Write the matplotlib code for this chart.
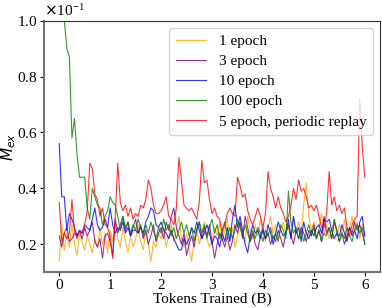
import numpy as np
import matplotlib
matplotlib.use("Agg")
import matplotlib.pyplot as plt
from matplotlib.ticker import ScalarFormatter

plt.rcParams['font.family'] = ['Liberation Serif', 'DejaVu Serif']
plt.rcParams['mathtext.fontset'] = 'dejavusans'

tokens = np.round(np.arange(121) * 0.05, 2)

# values in units of 1e-1
one_epoch = [
    0.14, 0.27, 0.18, 0.24, 0.19, 0.27, 0.20, 0.16, 0.24, 0.21,
    0.18, 0.23, 0.20, 0.17, 0.22, 0.19, 0.26, 0.20, 0.24, 0.17,
    0.25, 0.21, 0.28, 0.22, 0.19, 0.26, 0.21, 0.17, 0.23, 0.19,
    0.22, 0.27, 0.21, 0.18, 0.25, 0.20, 0.14, 0.21, 0.19, 0.24,
    0.22, 0.26, 0.19, 0.23, 0.27, 0.21, 0.25, 0.30, 0.22, 0.19,
    0.24, 0.18, 0.14, 0.22, 0.26, 0.20, 0.24, 0.28, 0.22, 0.19,
    0.21, 0.26, 0.23, 0.28, 0.21, 0.25, 0.29, 0.22, 0.26, 0.19,
    0.23, 0.28, 0.24, 0.21, 0.30, 0.25, 0.22, 0.27, 0.23, 0.29,
    0.24, 0.21, 0.26, 0.30, 0.24, 0.27, 0.22, 0.25, 0.28, 0.24,
    0.26, 0.22, 0.30, 0.25, 0.28, 0.23, 0.34, 0.42, 0.30, 0.25,
    0.28, 0.22, 0.26, 0.31, 0.24, 0.27, 0.22, 0.25, 0.29, 0.23,
    0.27, 0.24, 0.29, 0.22, 0.26, 0.30, 0.25, 0.28, 0.22, 0.27,
    0.23,
]
three_epoch = [
    0.23, 0.19, 0.24, 0.26, 0.21, 0.22, 0.24, 0.23, 0.25, 0.22,
    0.26, 0.23, 0.25, 0.28, 0.21, 0.19, 0.22, 0.15, 0.23, 0.24,
    0.21, 0.16, 0.29, 0.24, 0.27, 0.30, 0.25, 0.28, 0.23, 0.26,
    0.29, 0.24, 0.27, 0.22, 0.25, 0.20, 0.23, 0.27, 0.21, 0.24,
    0.26, 0.22, 0.28, 0.25, 0.30, 0.33, 0.26, 0.23, 0.20, 0.24,
    0.16, 0.20, 0.23, 0.19, 0.25, 0.28, 0.22, 0.26, 0.23, 0.27,
    0.21, 0.15, 0.20, 0.24, 0.22, 0.19, 0.23, 0.18, 0.21, 0.27,
    0.24, 0.28, 0.22, 0.30, 0.26, 0.21, 0.24, 0.20, 0.18, 0.23,
    0.26, 0.22, 0.24, 0.20, 0.23, 0.21, 0.25, 0.22, 0.19, 0.24,
    0.27, 0.23, 0.20, 0.25, 0.22, 0.26, 0.24, 0.21, 0.25, 0.23,
    0.27, 0.22, 0.25, 0.21, 0.30, 0.24, 0.26, 0.22, 0.28, 0.25,
    0.21, 0.24, 0.20, 0.23, 0.26, 0.24, 0.28, 0.25, 0.27, 0.24,
    0.20,
]
ten_epoch = [
    0.56, 0.37, 0.37, 0.25, 0.31, 0.29, 0.26, 0.23, 0.25, 0.24,
    0.27, 0.26, 0.25, 0.29, 0.33, 0.27, 0.25, 0.26, 0.29, 0.26,
    0.33, 0.27, 0.24, 0.26, 0.25, 0.28, 0.24, 0.26, 0.23, 0.25,
    0.25, 0.24, 0.26, 0.24, 0.28, 0.30, 0.33, 0.32, 0.27, 0.26,
    0.28, 0.25, 0.24, 0.22, 0.25, 0.22, 0.20, 0.18, 0.18, 0.22,
    0.20, 0.22, 0.26, 0.24, 0.28, 0.25, 0.22, 0.24, 0.27, 0.24,
    0.20, 0.23, 0.22, 0.19, 0.24, 0.21, 0.26, 0.21, 0.29, 0.34,
    0.26, 0.30, 0.25, 0.20, 0.17, 0.23, 0.27, 0.24, 0.25, 0.22,
    0.25, 0.22, 0.27, 0.24, 0.20, 0.24, 0.28, 0.25, 0.23, 0.24,
    0.29, 0.22, 0.30, 0.24, 0.26, 0.21, 0.28, 0.24, 0.22, 0.25,
    0.23, 0.26, 0.27, 0.24, 0.29, 0.28, 0.29, 0.25, 0.22, 0.24,
    0.23, 0.27, 0.24, 0.21, 0.26, 0.23, 0.25, 0.22, 0.28, 0.30,
    0.23,
]
hundred_epoch = [
    1.35, 1.15, 1.00, 0.90, 0.87, 0.58, 0.65, 0.52, 0.44, 0.44,
    0.44, 0.33, 0.29, 0.40, 0.37, 0.34, 0.33, 0.27, 0.30, 0.32,
    0.37, 0.35, 0.34, 0.30, 0.25, 0.30, 0.26, 0.28, 0.24, 0.27,
    0.25, 0.29, 0.26, 0.23, 0.27, 0.24, 0.28, 0.25, 0.22, 0.26,
    0.24, 0.29, 0.25, 0.27, 0.23, 0.26, 0.22, 0.25, 0.28, 0.24,
    0.27, 0.23, 0.26, 0.21, 0.25, 0.28, 0.24, 0.27, 0.22, 0.26,
    0.29, 0.24, 0.27, 0.22, 0.25, 0.28, 0.23, 0.26, 0.22, 0.25,
    0.29, 0.26, 0.23, 0.27, 0.24, 0.21, 0.25, 0.22, 0.26, 0.24,
    0.21, 0.25, 0.23, 0.26, 0.22, 0.24, 0.21, 0.27, 0.25, 0.22,
    0.39, 0.28, 0.24, 0.26, 0.22, 0.25, 0.21, 0.24, 0.27, 0.23,
    0.26, 0.22, 0.25, 0.21, 0.24, 0.23, 0.26, 0.22, 0.29, 0.25,
    0.21, 0.24, 0.22, 0.26, 0.23, 0.21, 0.25, 0.27, 0.24, 0.26,
    0.20,
]
periodic_replay = [
    0.35, 0.21, 0.24, 0.22, 0.24, 0.36, 0.25, 0.22, 0.25, 0.24,
    0.27, 0.32, 0.49, 0.47, 0.38, 0.36, 0.30, 0.33, 0.27, 0.26,
    0.23, 0.15, 0.30, 0.49, 0.35, 0.32, 0.34, 0.30, 0.33, 0.29,
    0.31, 0.30, 0.34, 0.33, 0.36, 0.43, 0.40, 0.34, 0.31, 0.31,
    0.32, 0.34, 0.37, 0.30, 0.29, 0.27, 0.33, 0.51, 0.43, 0.34,
    0.33, 0.32, 0.33, 0.31, 0.29, 0.35, 0.50, 0.42, 0.43, 0.36,
    0.31, 0.33, 0.30, 0.29, 0.24, 0.27, 0.31, 0.33, 0.31, 0.30,
    0.44, 0.41, 0.37, 0.38, 0.32, 0.29, 0.27, 0.30, 0.33, 0.30,
    0.26, 0.31, 0.46, 0.40, 0.37, 0.33, 0.37, 0.33, 0.31, 0.28,
    0.30, 0.34, 0.40, 0.36, 0.43, 0.39, 0.40, 0.37, 0.33, 0.34,
    0.32, 0.34, 0.30, 0.26, 0.26, 0.31, 0.46, 0.34, 0.37, 0.32,
    0.34, 0.31, 0.33, 0.26, 0.23, 0.27, 0.29, 0.30, 0.72, 0.55,
    0.44,
]

labels = ["1 epoch", "3 epoch", "10 epoch", "100 epoch", "5 epoch, periodic replay"]
colors = ["orange", "purple", "blue", "green", "red"]
series = [one_epoch, three_epoch, ten_epoch, hundred_epoch, periodic_replay]

fig = plt.figure(figsize=(3.82, 3.08), dpi=100)
ax = fig.add_axes([0.115, 0.116, 0.880, 0.817])

for vals, lab, col in zip(series, labels, colors):
    ax.plot(tokens, np.array(vals) * 0.1, color=col, lw=0.8, alpha=0.8, label=lab)

ax.set_xlim(-0.3, 6.3)
ax.set_ylim(0.01, 0.1)
ax.set_xticks([0, 1, 2, 3, 4, 5, 6])
ax.set_yticks([0.02, 0.04, 0.06, 0.08, 0.10])
fmt = ScalarFormatter(useMathText=True)
fmt.set_powerlimits((0, 0))
ax.yaxis.set_major_formatter(fmt)
ax.yaxis.get_offset_text().set_fontsize(11)
ax.tick_params(labelsize=11, length=3, pad=1.5)

for s in ['left', 'bottom']:
    ax.spines[s].set_color('0.45')
    ax.spines[s].set_linewidth(1.5)
for s in ['top', 'right']:
    ax.spines[s].set_color('0.2')
    ax.spines[s].set_linewidth(0.8)

ax.set_xlabel("Tokens Trained (B)", fontsize=11, labelpad=1)
ax.set_ylabel("$M_{ex}$", fontsize=11)
ax.yaxis.set_label_coords(-0.078, 0.5)
ax.legend(loc="upper right", fontsize=11, handlelength=2.0, borderaxespad=0.45,
          labelspacing=0.42, borderpad=0.45, framealpha=0.8)

fig.savefig("out.png", dpi=100)
